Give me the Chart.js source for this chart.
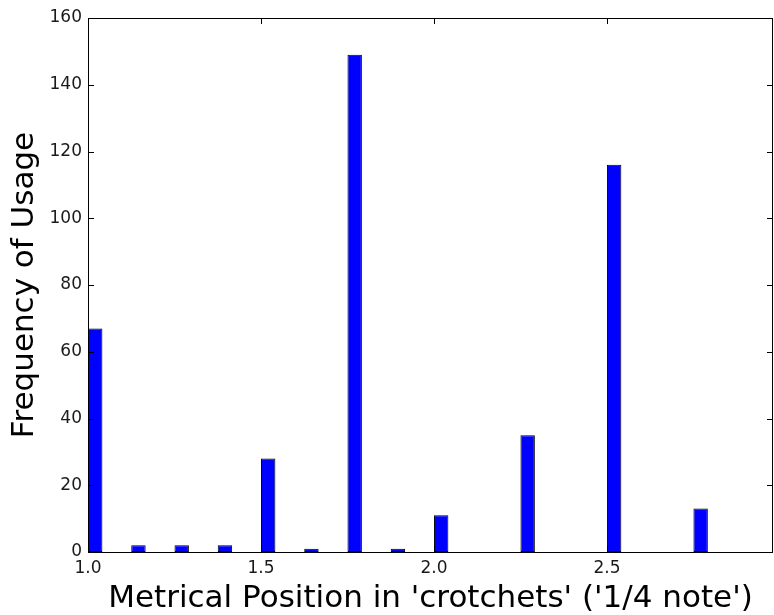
<!DOCTYPE html>
<html>
<head>
<meta charset="utf-8">
<script src="https://cdn.jsdelivr.net/npm/chart.js@4/dist/chart.umd.min.js"></script>
<style>
  html, body { margin: 0; padding: 0; background: #ffffff; }
  #wrap { width: 774px; height: 615px; }
</style>
</head>
<body>
<div id="wrap"><canvas id="chart" width="774" height="615"></canvas></div>
<script>
// Histogram of metrical positions (bin left edges, in crotchets) and counts
const binStarts = [1.0, 1.125, 1.25, 1.375, 1.5, 1.625, 1.75, 1.875, 2.0, 2.25, 2.5, 2.75];
const counts    = [67,  2,     2,    2,     28,  1,     149,  1,     11,  35,   116,  13];
const binWidth = 0.125 / 3;

const xTicks = [1.0, 1.5, 2.0, 2.5];
const yTicks = [0, 20, 40, 60, 80, 100, 120, 140, 160];

const xRange = [1.0, 2.98];
const yRange = [0, 160];

const points = binStarts.map((b, i) => ({ x: b + binWidth / 2, y: counts[i] }));

// bar width = bin width, expressed relative to the closest spacing of bins
let minGap = Infinity;
for (let i = 1; i < binStarts.length; i++) minGap = Math.min(minGap, binStarts[i] - binStarts[i - 1]);
const barFraction = binWidth / minGap;

const FONT = "'DejaVu Sans', sans-serif";

// Closed frame with inward-pointing ticks on all four sides
const frameTicks = {
  id: 'frameTicks',
  afterDatasetsDraw(chart) {
    const { ctx, chartArea: a, scales: { x, y } } = chart;
    const len = 6;
    ctx.save();
    ctx.strokeStyle = '#000000';
    ctx.lineWidth = 1;
    ctx.beginPath();
    xTicks.forEach(v => {
      const px = Math.round(x.getPixelForValue(v)) + 0.5;
      ctx.moveTo(px, a.bottom); ctx.lineTo(px, a.bottom - len);
      ctx.moveTo(px, a.top); ctx.lineTo(px, a.top + len);
    });
    yTicks.forEach(v => {
      const py = Math.round(y.getPixelForValue(v)) + 0.5;
      ctx.moveTo(a.left, py); ctx.lineTo(a.left + len, py);
      ctx.moveTo(a.right, py); ctx.lineTo(a.right - len, py);
    });
    ctx.stroke();
    ctx.strokeRect(Math.round(a.left) + 0.5, Math.round(a.top) + 0.5,
                   Math.round(a.right - a.left) - 1, Math.round(a.bottom - a.top));
    ctx.restore();
  }
};

new Chart(document.getElementById('chart'), {
  type: 'bar',
  data: {
    datasets: [{
      data: points,
      backgroundColor: '#0000ff',
      borderColor: '#000000',
      borderWidth: 1,
      borderSkipped: false,
      barPercentage: barFraction,
      categoryPercentage: 1.0
    }]
  },
  options: {
    responsive: false,
    animation: false,
    devicePixelRatio: 1,
    layout: { padding: { top: 18, right: 1, left: 0, bottom: 0 } },
    plugins: { legend: { display: false }, tooltip: { enabled: false } },
    scales: {
      x: {
        type: 'linear',
        offset: false,
        min: xRange[0],
        max: xRange[1],
        afterBuildTicks: s => { s.ticks = xTicks.map(v => ({ value: v })); },
        afterFit: s => { s.height = 63; },
        grid: { display: false, drawTicks: false },
        border: { display: false },
        ticks: {
          padding: 6,
          color: '#1a1a1a',
          font: { family: FONT, size: 17 },
          maxRotation: 0,
          callback: v => Number(v).toFixed(1)
        },
        title: {
          display: true,
          text: "Metrical Position in 'crotchets' ('1/4 note')",
          color: '#000000',
          font: { family: FONT, size: 31 },
          padding: { top: 0, bottom: -3 }
        }
      },
      y: {
        min: yRange[0],
        max: yRange[1],
        afterBuildTicks: s => { s.ticks = yTicks.map(v => ({ value: v })); },
        afterFit: s => { s.width = 88; },
        grid: { display: false, drawTicks: false },
        border: { display: false },
        ticks: {
          padding: 6,
          color: '#1a1a1a',
          font: { family: FONT, size: 17 }
        },
        title: {
          display: true,
          text: 'Frequency of Usage',
          color: '#000000',
          font: { family: FONT, size: 31 },
          padding: { top: 6, bottom: 0 }
        }
      }
    }
  },
  plugins: [frameTicks]
});
</script>
</body>
</html>
